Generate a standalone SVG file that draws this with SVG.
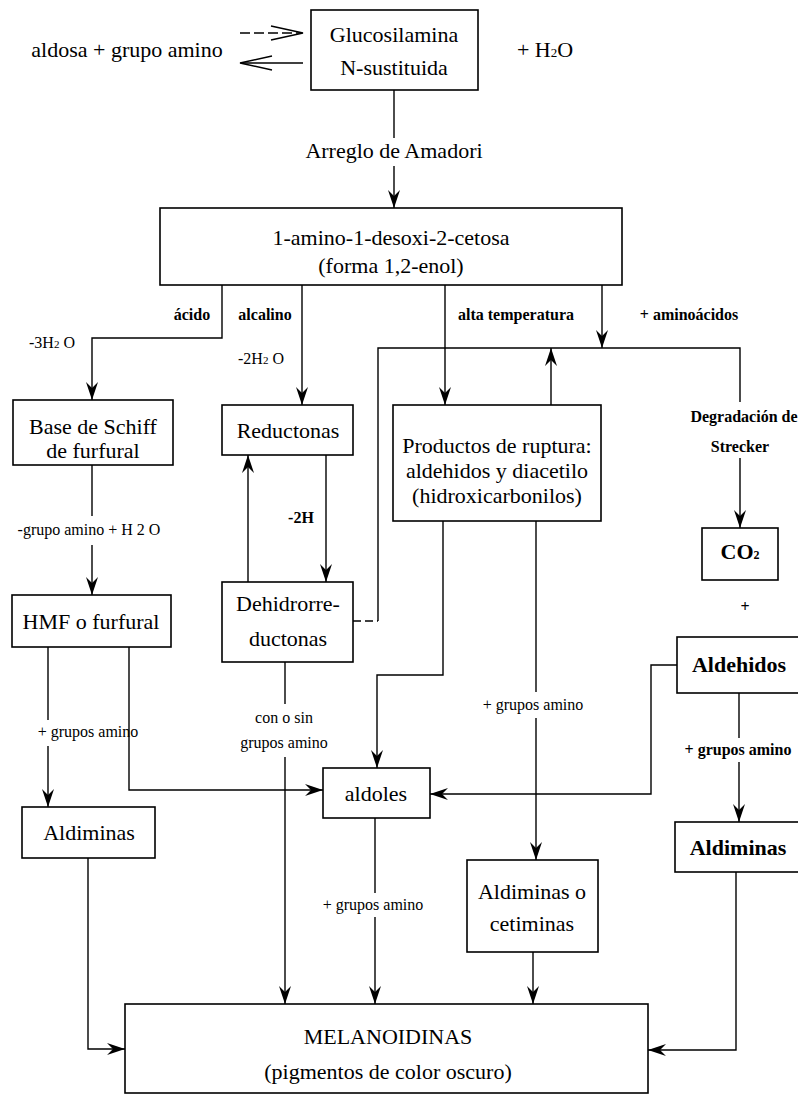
<svg xmlns="http://www.w3.org/2000/svg" width="798" height="1099" viewBox="0 0 798 1099">
<style>
.bx{fill:none;stroke:#000;stroke-width:1.6}
.ln{fill:none;stroke:#000;stroke-width:1.4}
.t{font-family:"Liberation Serif","Times New Roman",serif;font-size:22px;text-anchor:middle;fill:#000}
.s{font-size:16px}
.b{font-weight:bold}
</style>
<defs>
<marker id="ah" viewBox="0 0 18 12" refX="18" refY="6" markerWidth="18" markerHeight="12" markerUnits="userSpaceOnUse" orient="auto">
<path d="M0,0 L18,6 L0,12 L6,6 z" fill="#000"/>
</marker>
</defs>
<rect width="798" height="1099" fill="#fff"/>

<g id="connectors">
<path class="ln" d="M240,33 H301" stroke-dasharray="10,4"/>
<path class="ln" d="M271,26 L303,33 L271,40"/>
<path class="ln" d="M303,63 H242"/>
<path class="ln" d="M272,56 L240,63 L272,70"/>
<path class="ln" d="M394,90 V138"/>
<path class="ln" d="M394,166 V208" marker-end="url(#ah)"/>
<path class="ln" d="M222,285 V338 H92 V400" marker-end="url(#ah)"/>
<path class="ln" d="M302,285 V405" marker-end="url(#ah)"/>
<path class="ln" d="M445,285 V405" marker-end="url(#ah)"/>
<path class="ln" d="M602,285 V348" marker-end="url(#ah)"/>
<path class="ln" d="M353,621 H378" stroke-dasharray="8,4"/>
<path class="ln" d="M378,621 V348 H740 V402"/>
<path class="ln" d="M740,458 V528" marker-end="url(#ah)"/>
<path class="ln" d="M551,405 V348" marker-end="url(#ah)"/>
<path class="ln" d="M92,465 V516"/>
<path class="ln" d="M92,545 V595" marker-end="url(#ah)"/>
<path class="ln" d="M248,582 V455" marker-end="url(#ah)"/>
<path class="ln" d="M326,455 V582" marker-end="url(#ah)"/>
<path class="ln" d="M443,521 V675 H377 V768" marker-end="url(#ah)"/>
<path class="ln" d="M536,521 V692"/>
<path class="ln" d="M536,718 V860" marker-end="url(#ah)"/>
<path class="ln" d="M677,665 H651 V794 H430" marker-end="url(#ah)"/>
<path class="ln" d="M48,647 V720"/>
<path class="ln" d="M48,746 V807" marker-end="url(#ah)"/>
<path class="ln" d="M129,647 V790 H323" marker-end="url(#ah)"/>
<path class="ln" d="M285,662 V704"/>
<path class="ln" d="M285,757 V1004" marker-end="url(#ah)"/>
<path class="ln" d="M739,693 V738"/>
<path class="ln" d="M739,762 V822" marker-end="url(#ah)"/>
<path class="ln" d="M375,818 V893"/>
<path class="ln" d="M375,917 V1004" marker-end="url(#ah)"/>
<path class="ln" d="M88,858 V1049 H125" marker-end="url(#ah)"/>
<path class="ln" d="M533,952 V1004" marker-end="url(#ah)"/>
<path class="ln" d="M736,872 V1050 H648" marker-end="url(#ah)"/>
</g>

<g id="labels">
<text class="t" x="127" y="57">aldosa + grupo amino</text>
<text class="t" x="545" y="57">+ H<tspan font-size="13">2</tspan>O</text>
<text class="t" x="394" y="158">Arreglo de Amadori</text>
<text class="t s b" x="192" y="320">ácido</text>
<text class="t s b" x="265" y="320">alcalino</text>
<text class="t s" x="52" y="348">-3H<tspan font-size="11">2</tspan> O</text>
<text class="t s" x="261" y="364">-2H<tspan font-size="11">2</tspan> O</text>
<text class="t s b" x="516" y="320">alta temperatura</text>
<text class="t s b" x="689" y="320">+ aminoácidos</text>
<text class="t s b" x="744" y="422">Degradación de</text>
<text class="t s b" x="740" y="452">Strecker</text>
<text class="t s" x="89" y="535">-grupo amino + H 2 O</text>
<text class="t s b" x="301" y="523">-2H</text>
<text class="t s" x="88" y="737">+ grupos amino</text>
<text class="t s" x="284" y="723">con o sin</text>
<text class="t s" x="284" y="748">grupos amino</text>
<text class="t s" x="533" y="710">+ grupos amino</text>
<text class="t s b" x="738" y="755">+ grupos amino</text>
<text class="t s" x="373" y="910">+ grupos amino</text>
<text class="t s b" x="745" y="612">+</text>
</g>

<g id="n-glucosilamina">
<rect class="bx" x="311" y="10" width="167" height="80"/>
<text class="t" x="394" y="42">Glucosilamina</text>
<text class="t" x="394" y="75">N-sustituida</text>
</g>
<g id="n-amino-cetosa">
<rect class="bx" x="160" y="208" width="462" height="77"/>
<text class="t" x="391" y="245">1-amino-1-desoxi-2-cetosa</text>
<text class="t" x="391" y="273">(forma 1,2-enol)</text>
</g>
<g id="n-base-schiff">
<rect class="bx" x="13" y="400" width="160" height="65"/>
<text class="t" x="93" y="434" font-size="21">Base de Schiff</text>
<text class="t" x="93" y="458" font-size="17">de furfural</text>
</g>
<g id="n-reductonas">
<rect class="bx" x="222" y="405" width="131" height="50"/>
<text class="t" x="288" y="438">Reductonas</text>
</g>
<g id="n-productos">
<rect class="bx" x="393" y="405" width="208" height="116"/>
<text class="t" x="497" y="453">Productos de ruptura:</text>
<text class="t" x="497" y="478">aldehidos y diacetilo</text>
<text class="t" x="497" y="503">(hidroxicarbonilos)</text>
</g>
<g id="n-hmf">
<rect class="bx" x="12" y="595" width="159" height="52"/>
<text class="t" x="91" y="629">HMF o furfural</text>
</g>
<g id="n-dehidro">
<rect class="bx" x="222" y="582" width="131" height="80"/>
<text class="t" x="288" y="611">Dehidrorre-</text>
<text class="t" x="288" y="646">ductonas</text>
</g>
<g id="n-co2">
<rect class="bx" x="702" y="528" width="76" height="52"/>
<text class="t b" x="740" y="559">CO<tspan font-size="12">2</tspan></text>
</g>
<g id="n-aldehidos">
<rect class="bx" x="677" y="637" width="125" height="56"/>
<text class="t b" x="739" y="672" font-size="21">Aldehidos</text>
</g>
<g id="n-aldoles">
<rect class="bx" x="323" y="768" width="107" height="50"/>
<text class="t" x="376" y="801">aldoles</text>
</g>
<g id="n-aldiminas-izq">
<rect class="bx" x="22" y="807" width="133" height="51"/>
<text class="t" x="89" y="840">Aldiminas</text>
</g>
<g id="n-aldiminas-cetiminas">
<rect class="bx" x="467" y="860" width="131" height="92"/>
<text class="t" x="532" y="899">Aldiminas o</text>
<text class="t" x="532" y="931">cetiminas</text>
</g>
<g id="n-aldiminas-der">
<rect class="bx" x="675" y="822" width="127" height="50"/>
<text class="t b" x="738" y="855" font-size="21">Aldiminas</text>
</g>
<g id="n-melanoidinas">
<rect class="bx" x="125" y="1004" width="523" height="89"/>
<text class="t" x="388" y="1044">MELANOIDINAS</text>
<text class="t" x="388" y="1079">(pigmentos de color oscuro)</text>
</g>
</svg>
